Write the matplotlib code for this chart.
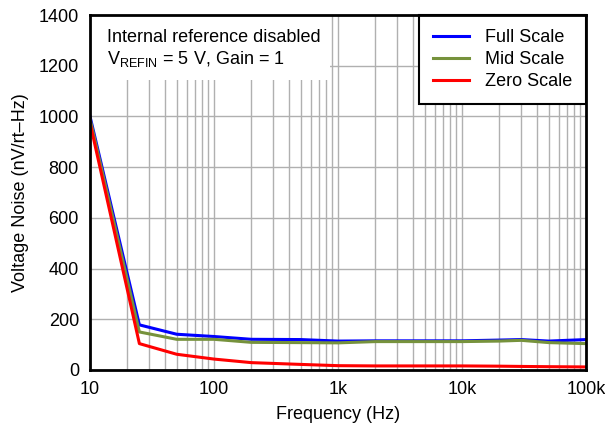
import numpy as np
import matplotlib
matplotlib.use("Agg")
import matplotlib.pyplot as plt
from matplotlib.patches import Rectangle
from matplotlib.ticker import FixedLocator, LogLocator, NullFormatter

plt.rcParams['font.family'] = ['Liberation Sans', 'DejaVu Sans']

freq = [10, 25, 50, 100, 200, 500, 1000, 2000, 5000, 10000, 20000, 30000, 50000, 100000]
full_scale = [1000, 178, 141, 132, 121, 120, 114, 115, 115, 115, 118, 120, 114, 120]
mid_scale = [990, 150, 121, 121, 109, 108, 107, 112, 112, 112, 114, 117, 108, 104]
zero_scale = [975, 104, 62, 43, 29, 22, 17, 16, 16, 16, 15, 14, 13, 12]

x_ticks = [10, 100, 1000, 10000, 100000]
x_labels = ['10', '100', '1k', '10k', '100k']
y_ticks = [0, 200, 400, 600, 800, 1000, 1200, 1400]

fig = plt.figure(figsize=(6.05, 4.24), dpi=100)
ax = fig.add_axes([0.1488, 0.1274, 0.820, 0.837])

ax.plot(freq, full_scale, color='#0000ff', lw=2.2, label='Full Scale', zorder=3)
ax.plot(freq, mid_scale, color='#76923c', lw=2.2, label='Mid Scale', zorder=3)
ax.plot(freq, zero_scale, color='#ff0000', lw=2.2, label='Zero Scale', zorder=3)

ax.set_xscale('log')
ax.set_xlim(10, 100000)
ax.set_ylim(0, 1400)
ax.xaxis.set_major_locator(FixedLocator(x_ticks))
ax.set_xticklabels(x_labels)
ax.xaxis.set_minor_locator(LogLocator(base=10, subs=np.arange(2, 10)))
ax.xaxis.set_minor_formatter(NullFormatter())
ax.set_yticks(y_ticks)

ax.grid(True, which='both', color='#b0b0b0', lw=1)
ax.set_axisbelow(True)
ax.tick_params(which='both', length=0, labelsize=13, pad=8)
for s in ax.spines.values():
    s.set_linewidth(2)
    s.set_color('black')
    s.set_zorder(5)

ax.set_xlabel('Frequency (Hz)', fontsize=13, labelpad=6)
ax.set_ylabel('Voltage Noise (nV/rt\u2013Hz)', fontsize=13, labelpad=7)

# white area behind the note, hiding the grid
ax.add_patch(Rectangle((0, 0.817), 0.484, 0.183, transform=ax.transAxes,
                       facecolor='white', edgecolor='none', zorder=2))
ax.text(0.035, 0.96, 'Internal reference disabled\nV$_{\\mathregular{REFIN}}$ = 5 V, Gain = 1',
        transform=ax.transAxes, fontsize=13, va='top', ha='left', linespacing=1.15, zorder=3)

leg = ax.legend(loc='upper right', fontsize=13, fancybox=False, framealpha=1,
                edgecolor='black', borderpad=0.78, handlelength=1.95, handletextpad=0.9,
                labelspacing=0.28, borderaxespad=0)
leg.get_frame().set_linewidth(1.5)
leg.set_zorder(4)

fig.savefig('out.png', dpi=100)
